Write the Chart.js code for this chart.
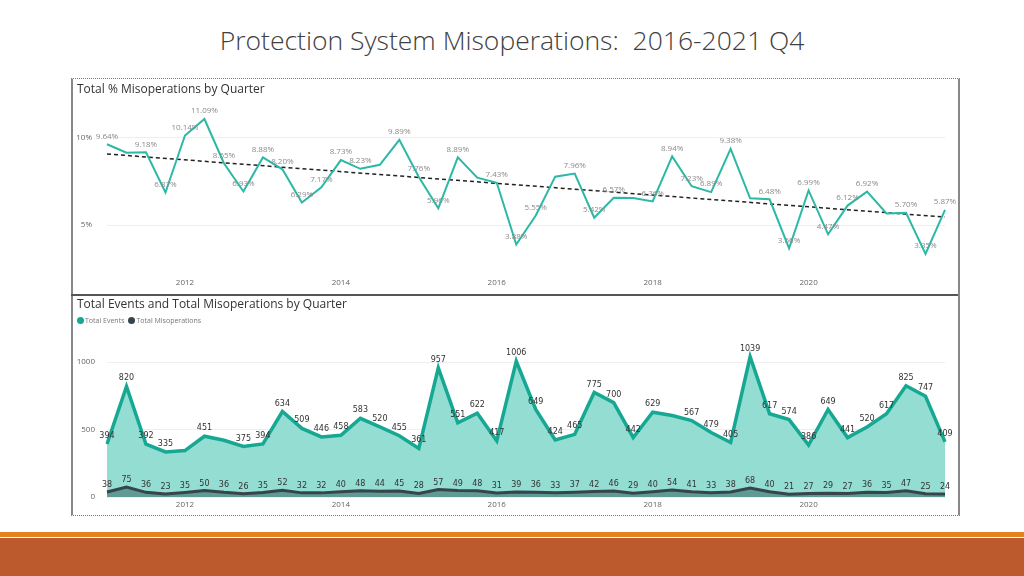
<!DOCTYPE html>
<html>
<head>
<meta charset="utf-8">
<script src="https://cdn.jsdelivr.net/npm/chart.js@4"></script>
<style>
  body { margin: 0; width: 1024px; height: 576px; background: #fff; position: relative; overflow: hidden; font-family: "Open Sans", sans-serif; }
  #pageTitle { position: absolute; left: 0; width: 1024px; top: 22px; text-align: center; font-size: 26.5px; font-weight: 300; color: #404040; }
  #frame { position: absolute; left: 71px; top: 78px; width: 885px; height: 436px; border-top: 1px dotted #777; border-bottom: 1px dotted #777; border-left: 2px solid #888; border-right: 2px solid #888; }
  #sep { position: absolute; left: 71px; top: 294px; width: 887px; height: 0; border-top: 2px solid #555; }
  .panelTitle { position: absolute; left: 77px; font-size: 12px; color: #333; }
  #legend { position: absolute; left: 77px; top: 316px; font-size: 7px; color: #777; display: flex; gap: 4px; }
  #legend span.dot { display: inline-block; width: 7px; height: 7px; border-radius: 50%; margin-right: 1px; vertical-align: -1px; }
  #topWrap { position: absolute; left: 72px; top: 79px; width: 884px; height: 215px; }
  #botWrap { position: absolute; left: 72px; top: 296px; width: 884px; height: 218px; }
  #stripe { position: absolute; left: 0; top: 532px; width: 1024px; height: 5px; background: #E3821E; }
  #bar { position: absolute; left: 0; top: 538px; width: 1024px; height: 38px; background: #BC5A2E; }
</style>
</head>
<body>
<div id="pageTitle">Protection System Misoperations:&nbsp; 2016-2021 Q4</div>
<div id="frame"></div>
<div id="sep"></div>
<div id="topWrap"><canvas id="pctChart"></canvas></div>
<div id="botWrap"><canvas id="countChart"></canvas></div>
<div class="panelTitle" style="top:80px">Total % Misoperations by Quarter</div>
<div class="panelTitle" style="top:295px">Total Events and Total Misoperations by Quarter</div>
<div id="legend"></div>
<div id="stripe"></div>
<div id="bar"></div>

<script>
// quarters 2011 Q1 .. 2021 Q4
const years = [2011, 2012, 2013, 2014, 2015, 2016, 2017, 2018, 2019, 2020, 2021];
const quarterNames = ['Q1', 'Q2', 'Q3', 'Q4'];
const yearTicks = ['2012', '2014', '2016', '2018', '2020'];

// total % misoperations per quarter
const pctValues = [9.64, 9.15, 9.18, 6.87, 10.14, 11.09, 8.55, 6.93, 8.88, 8.20, 6.29, 7.17,
  8.73, 8.23, 8.46, 9.89, 7.76, 5.96, 8.89, 7.72, 7.43, 3.88, 5.55, 7.78,
  7.96, 5.42, 6.57, 6.56, 6.36, 8.94, 7.23, 6.89, 9.38, 6.54, 6.48, 3.66,
  6.99, 4.47, 6.12, 6.92, 5.67, 5.70, 3.35, 5.87];
// dashed trend line, start and end value
const trendEnds = [9.08, 5.46];
const pctTicks = [5, 10];
const pctHidden = [1, 14, 19, 23, 27, 33, 40];

// totals per quarter
const totalEvents = [394, 820, 392, 335, 345, 451, 421, 375, 394, 634, 509, 446,
  458, 583, 520, 455, 361, 957, 551, 622, 417, 1006, 649, 424,
  465, 775, 700, 442, 629, 604, 567, 479, 405, 1039, 617, 574,
  386, 649, 441, 520, 617, 825, 747, 409];
const totalMisops = [38, 75, 36, 23, 35, 50, 36, 26, 35, 52, 32, 32,
  40, 48, 44, 45, 28, 57, 49, 48, 31, 39, 36, 33,
  37, 42, 46, 29, 40, 54, 41, 33, 38, 68, 40, 21,
  27, 29, 27, 36, 35, 47, 25, 24];
const countTicks = [0, 500, 1000];
const eventsHidden = [4, 6, 29];

const quarters = [];
years.forEach(y => quarterNames.forEach(q => quarters.push(y + ' ' + q)));

const trendData = quarters.map((_, i) =>
  i === 0 ? trendEnds[0] : (i === quarters.length - 1 ? trendEnds[1] : null));

// draws value labels above the points
const pointLabels = {
  id: 'pointLabels',
  afterDatasetsDraw(chart) {
    const ctx = chart.ctx;
    chart.data.datasets.forEach((ds, i) => {
      const lab = ds.pointLabel;
      if (!lab) return;
      const meta = chart.getDatasetMeta(i);
      ctx.save();
      ctx.font = lab.font;
      ctx.fillStyle = lab.color;
      ctx.textAlign = 'center';
      ctx.textBaseline = 'middle';
      meta.data.forEach((pt, j) => {
        if (lab.hidden.includes(j)) return;
        ctx.fillText(lab.format(ds.data[j]), pt.x, pt.y - lab.offset);
      });
      ctx.restore();
    });
  }
};

const xTickCallback = function (val, idx) {
  const name = quarters[idx];
  const yr = name.slice(0, 4);
  return name.endsWith('Q1') && yearTicks.includes(yr) ? yr : '';
};

const tickFont = { family: 'Open Sans', size: 8 };

new Chart(document.getElementById('pctChart'), {
  type: 'line',
  data: {
    labels: quarters,
    datasets: [{
      label: 'Total % Misoperations',
      data: pctValues,
      borderColor: '#2BB8A5',
      borderWidth: 2,
      pointRadius: 0,
      tension: 0,
      pointLabel: { font: '8px "Open Sans"', color: '#8a8a8a', offset: 8, hidden: pctHidden, format: v => v.toFixed(2) + '%' }
    }, {
      label: 'Trend',
      data: trendData,
      borderColor: '#222',
      borderWidth: 1.5,
      borderDash: [4, 3],
      pointRadius: 0,
      spanGaps: true
    }]
  },
  options: {
    responsive: true,
    maintainAspectRatio: false,
    animation: false,
    layout: { padding: { top: 21, right: 11, bottom: 2, left: 0 } },
    plugins: { legend: { display: false }, tooltip: { enabled: false } },
    scales: {
      x: {
        grid: { display: false, drawTicks: false },
        border: { display: false },
        ticks: { autoSkip: false, maxRotation: 0, padding: 4, color: '#666', font: tickFont, callback: xTickCallback }
      },
      y: {
        min: 2.18,
        max: 12.18,
        afterBuildTicks: s => { s.ticks = pctTicks.map(v => ({ value: v })); },
        afterFit: s => { s.width = 35; },
        grid: { color: '#eeeeee', drawTicks: false },
        border: { display: false },
        ticks: { padding: 15, color: '#666', font: tickFont, callback: v => v + '%' }
      }
    }
  },
  plugins: [pointLabels]
});

const countChart = new Chart(document.getElementById('countChart'), {
  type: 'line',
  data: {
    labels: quarters,
    datasets: [{
      label: 'Total Events',
      data: totalEvents,
      borderColor: '#17A893',
      backgroundColor: '#93DDD3',
      borderWidth: 3.5,
      fill: 'origin',
      pointRadius: 0,
      tension: 0,
      order: 1,
      pointLabel: { font: '8px "DejaVu Sans"', color: '#333', offset: 8, hidden: eventsHidden, format: v => String(v) }
    }, {
      label: 'Total Misoperations',
      data: totalMisops,
      borderColor: '#36444C',
      backgroundColor: '#5F9A94',
      borderWidth: 3,
      fill: 'origin',
      pointRadius: 0,
      tension: 0,
      order: 0,
      pointLabel: { font: '8px "DejaVu Sans"', color: '#333', offset: 7, hidden: [], format: v => String(v) }
    }]
  },
  options: {
    responsive: true,
    maintainAspectRatio: false,
    animation: false,
    layout: { padding: { top: 44, right: 11, bottom: 1, left: 0 } },
    plugins: { legend: { display: false }, tooltip: { enabled: false } },
    scales: {
      x: {
        grid: { display: false, drawTicks: false },
        border: { display: false },
        ticks: { autoSkip: false, maxRotation: 0, padding: 3, color: '#666', font: tickFont, callback: xTickCallback }
      },
      y: {
        min: 0,
        max: 1163,
        afterBuildTicks: s => { s.ticks = countTicks.map(v => ({ value: v })); },
        afterFit: s => { s.width = 35; },
        grid: { color: '#eeeeee', drawTicks: false },
        border: { display: false },
        ticks: { padding: 12, color: '#666', font: tickFont, callback: v => String(v) }
      }
    }
  },
  plugins: [pointLabels]
});

// legend from the datasets
const legend = document.getElementById('legend');
countChart.data.datasets.forEach(ds => {
  const item = document.createElement('div');
  item.innerHTML = '<span class="dot" style="background:' + ds.borderColor + '"></span>' + ds.label;
  legend.appendChild(item);
});
</script>
</body>
</html>
